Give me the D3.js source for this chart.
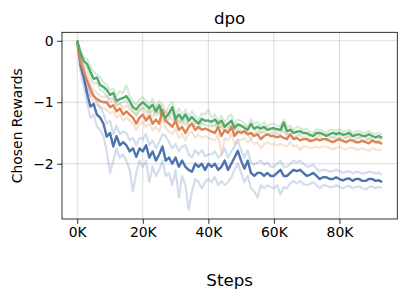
<!DOCTYPE html>
<html><head><meta charset="utf-8">
<script src="https://cdn.jsdelivr.net/npm/d3@7"></script>
<style>body{margin:0;background:#fff}svg{display:block}text{font-family:"DejaVu Sans",sans-serif;fill:#000}</style>
</head><body><svg id="c" width="408" height="300"></svg>
<script>
const xTicks = [0, 20000, 40000, 60000, 80000];
const xTickLabels = ["0K", "20K", "40K", "60K", "80K"];
const yTicks = [0, -1, -2];
const yTickLabels = ["0", "\u22121", "\u22122"];
const title = "dpo", xLabel = "Steps", yLabel = "Chosen Rewards";
const seriesNames = ["blue", "orange", "green"];
const colors = ["#4c72b0", "#dd8452", "#55a868"];

const greenMean = [0,-0.20,-0.33,-0.38,-0.50,-0.62,-0.60,-0.72,-0.75,-0.80,-0.88,-0.85,-0.98,-0.95,-0.93,-0.90,-0.98,-1.08,-1.12,-1.05,-1.00,-1.05,-1.10,-1.04,-1.15,-1.05,-1.20,-1.25,-1.18,-1.08,-1.28,-1.20,-1.28,-1.20,-1.30,-1.24,-1.30,-1.35,-1.27,-1.30,-1.30,-1.32,-1.28,-1.35,-1.30,-1.40,-1.35,-1.30,-1.42,-1.36,-1.38,-1.42,-1.45,-1.35,-1.43,-1.40,-1.43,-1.40,-1.45,-1.43,-1.42,-1.44,-1.45,-1.33,-1.47,-1.45,-1.50,-1.48,-1.47,-1.50,-1.50,-1.53,-1.55,-1.50,-1.50,-1.52,-1.55,-1.52,-1.50,-1.52,-1.50,-1.53,-1.52,-1.50,-1.55,-1.53,-1.52,-1.55,-1.55,-1.52,-1.55,-1.57,-1.55,-1.58];
const orangeMean = [0,-0.35,-0.50,-0.65,-0.78,-0.90,-0.95,-0.98,-1.00,-1.00,-1.08,-1.05,-1.15,-1.10,-1.20,-1.15,-1.20,-1.25,-1.35,-1.25,-1.20,-1.30,-1.22,-1.35,-1.28,-1.35,-1.12,-1.30,-1.35,-1.40,-1.30,-1.45,-1.40,-1.50,-1.40,-1.35,-1.45,-1.40,-1.45,-1.43,-1.45,-1.48,-1.50,-1.40,-1.55,-1.45,-1.50,-1.40,-1.55,-1.48,-1.50,-1.47,-1.52,-1.50,-1.55,-1.52,-1.60,-1.55,-1.52,-1.55,-1.55,-1.57,-1.55,-1.58,-1.60,-1.52,-1.60,-1.58,-1.62,-1.60,-1.60,-1.63,-1.62,-1.60,-1.62,-1.60,-1.60,-1.63,-1.65,-1.62,-1.60,-1.63,-1.65,-1.62,-1.62,-1.65,-1.65,-1.63,-1.65,-1.67,-1.62,-1.65,-1.65,-1.68];
const blueMean = [0,-0.40,-0.60,-0.85,-1.07,-1.03,-1.20,-1.25,-1.35,-1.56,-1.50,-1.72,-1.55,-1.70,-1.65,-1.70,-1.80,-1.75,-1.89,-1.75,-1.80,-1.70,-1.90,-1.80,-1.95,-1.85,-1.72,-1.95,-1.90,-2.00,-1.90,-2.05,-1.95,-2.05,-2.10,-2.13,-2.00,-2.05,-2.00,-2.10,-2.00,-2.05,-2.00,-2.10,-2.05,-1.95,-2.10,-2.00,-1.90,-1.79,-1.95,-2.08,-1.95,-2.15,-2.20,-2.15,-2.15,-2.20,-2.15,-2.20,-2.20,-2.15,-2.10,-2.20,-2.20,-2.15,-2.10,-2.12,-2.10,-2.15,-2.20,-2.18,-2.15,-2.20,-2.25,-2.22,-2.22,-2.25,-2.25,-2.22,-2.25,-2.27,-2.25,-2.24,-2.28,-2.25,-2.25,-2.28,-2.28,-2.25,-2.25,-2.28,-2.27,-2.30];

const greenRunA = [0,-0.15,-0.28,-0.30,-0.42,-0.50,-0.55,-0.60,-0.68,-0.72,-0.80,-0.78,-0.90,-0.82,-0.85,-0.72,-0.90,-0.98,-1.05,-0.95,-0.92,-0.98,-1.05,-0.95,-1.08,-0.98,-1.12,-1.18,-1.05,-1.00,-1.20,-1.10,-1.22,-1.12,-1.25,-1.15,-1.22,-1.28,-1.18,-1.20,-1.12,-1.25,-1.20,-1.30,-1.22,-1.32,-1.25,-1.20,-1.35,-1.28,-1.30,-1.35,-1.40,-1.28,-1.35,-1.32,-1.38,-1.32,-1.40,-1.35,-1.35,-1.38,-1.40,-1.28,-1.40,-1.38,-1.45,-1.40,-1.42,-1.45,-1.43,-1.48,-1.50,-1.44,-1.45,-1.47,-1.50,-1.45,-1.45,-1.47,-1.44,-1.48,-1.47,-1.45,-1.50,-1.48,-1.46,-1.50,-1.50,-1.47,-1.50,-1.52,-1.50,-1.53];
const greenRunB = [0,-0.25,-0.40,-0.45,-0.58,-0.70,-0.68,-0.80,-0.82,-0.90,-0.95,-0.92,-1.05,-1.02,-1.00,-0.98,-1.06,-1.15,-1.20,-1.12,-1.08,-1.12,-1.18,-1.12,-1.22,-1.12,-1.28,-1.32,-1.25,-1.15,-1.35,-1.28,-1.35,-1.28,-1.38,-1.32,-1.38,-1.42,-1.35,-1.38,-1.38,-1.40,-1.35,-1.42,-1.38,-1.48,-1.42,-1.38,-1.50,-1.44,-1.46,-1.50,-1.52,-1.60,-1.50,-1.48,-1.50,-1.48,-1.52,-1.50,-1.50,-1.52,-1.52,-1.40,-1.55,-1.52,-1.58,-1.55,-1.54,-1.57,-1.57,-1.60,-1.62,-1.57,-1.57,-1.59,-1.62,-1.58,-1.57,-1.59,-1.57,-1.60,-1.58,-1.57,-1.62,-1.60,-1.58,-1.62,-1.62,-1.59,-1.62,-1.64,-1.62,-1.65];
const orangeRunA = [0,-0.28,-0.42,-0.55,-0.70,-0.80,-0.85,-0.90,-0.92,-0.90,-1.00,-0.95,-1.05,-1.02,-1.10,-1.05,-1.12,-1.15,-1.22,-1.15,-1.10,-1.20,-1.12,-1.25,-1.10,-1.20,-1.02,-1.15,-1.22,-1.30,-1.20,-1.35,-1.28,-1.38,-1.30,-1.25,-1.35,-1.30,-1.35,-1.32,-1.28,-1.38,-1.40,-1.30,-1.42,-1.35,-1.40,-1.30,-1.45,-1.38,-1.40,-1.38,-1.42,-1.40,-1.45,-1.42,-1.50,-1.45,-1.42,-1.46,-1.45,-1.48,-1.46,-1.48,-1.52,-1.42,-1.50,-1.50,-1.52,-1.50,-1.52,-1.55,-1.53,-1.52,-1.54,-1.52,-1.52,-1.55,-1.57,-1.54,-1.52,-1.55,-1.57,-1.54,-1.55,-1.57,-1.57,-1.55,-1.57,-1.60,-1.55,-1.58,-1.58,-1.60];
const orangeRunB = [0,-0.42,-0.60,-0.75,-0.88,-1.00,-1.05,-1.08,-1.10,-1.12,-1.18,-1.15,-1.25,-1.20,-1.30,-1.25,-1.30,-1.35,-1.45,-1.35,-1.32,-1.40,-1.35,-1.45,-1.40,-1.48,-1.25,-1.42,-1.48,-1.52,-1.42,-1.58,-1.52,-1.62,-1.50,-1.48,-1.58,-1.52,-1.58,-1.55,-1.58,-1.60,-1.62,-1.52,-1.85,-1.58,-1.62,-1.52,-1.68,-1.60,-1.62,-1.58,-1.65,-1.62,-1.68,-1.65,-1.75,-1.68,-1.65,-1.68,-1.68,-1.70,-1.68,-1.70,-1.72,-1.65,-1.72,-1.70,-1.78,-1.72,-1.72,-1.75,-1.74,-1.72,-1.74,-1.72,-1.72,-1.75,-1.77,-1.74,-1.72,-1.75,-1.77,-1.74,-1.74,-1.77,-1.77,-1.75,-1.77,-1.79,-1.74,-1.77,-1.77,-1.78];
const blueRunA = [0,-0.50,-0.75,-1.00,-1.25,-1.20,-1.40,-1.45,-1.55,-1.80,-2.15,-1.95,-1.75,-1.90,-1.85,-1.95,-2.10,-2.45,-2.15,-1.95,-2.05,-1.95,-2.30,-2.05,-2.20,-2.10,-1.95,-2.20,-2.15,-2.35,-2.10,-2.55,-2.20,-2.35,-2.75,-2.45,-2.25,-2.30,-2.40,-2.30,-2.25,-2.30,-2.22,-2.35,-2.28,-2.35,-2.30,-2.22,-2.10,-2.00,-2.15,-2.30,-2.20,-2.40,-2.45,-2.55,-2.35,-2.40,-2.35,-2.38,-2.40,-2.35,-2.50,-2.38,-2.40,-2.32,-2.28,-2.32,-2.28,-2.33,-2.35,-2.33,-2.30,-2.35,-2.40,-2.35,-2.36,-2.38,-2.38,-2.35,-2.38,-2.40,-2.38,-2.36,-2.40,-2.38,-2.37,-2.40,-2.42,-2.38,-2.37,-2.40,-2.38,-2.40];
const blueRunB = [0,-0.30,-0.48,-0.70,-0.90,-0.88,-1.00,-1.08,-1.18,-1.35,-1.30,-1.52,-1.38,-1.52,-1.48,-1.50,-1.62,-1.58,-1.70,-1.58,-1.60,-1.52,-1.70,-1.62,-1.75,-1.65,-1.52,-1.55,-1.65,-1.75,-1.68,-1.80,-1.72,-1.70,-1.85,-1.90,-1.78,-1.85,-1.78,-1.88,-1.85,-1.85,-1.80,-1.90,-1.85,-1.75,-1.90,-1.80,-1.72,-1.62,-1.78,-1.90,-1.78,-1.98,-2.02,-1.98,-1.95,-2.02,-1.98,-2.05,-2.05,-2.00,-1.95,-2.05,-2.05,-2.00,-1.95,-1.98,-1.95,-2.00,-2.05,-2.04,-2.02,-2.08,-2.12,-2.10,-2.10,-2.13,-2.12,-2.10,-2.12,-2.15,-2.13,-2.12,-2.16,-2.13,-2.14,-2.16,-2.15,-2.13,-2.14,-2.16,-2.15,-2.18];

const stepSize = 1000;
const means = [blueMean, orangeMean, greenMean];
const runs = [[blueRunA, blueRunB], [orangeRunA, orangeRunB], [greenRunA, greenRunB]];

const svg = d3.select("#c");
const L = 62, R = 397.3, T = 32.3, B = 219;
const x = d3.scaleLinear().domain([-4650, 97650]).range([L, R]);
const y = d3.scaleLinear().domain([-2.9, 0.138]).range([B, T]);

const g = svg.append("g");
g.selectAll(".gx").data(xTicks).join("line")
  .attr("x1", d => x(d)).attr("x2", d => x(d)).attr("y1", T).attr("y2", B)
  .attr("stroke", "#b0b0b0").attr("stroke-opacity", 0.5).attr("stroke-width", 0.9);
g.selectAll(".gy").data(yTicks).join("line")
  .attr("x1", L).attr("x2", R).attr("y1", d => y(d)).attr("y2", d => y(d))
  .attr("stroke", "#b0b0b0").attr("stroke-opacity", 0.5).attr("stroke-width", 0.9);

const line = d3.line().x((d, i) => x(i * stepSize)).y(d => y(d));
svg.append("clipPath").attr("id", "cp").append("rect")
  .attr("x", L).attr("y", T).attr("width", R - L).attr("height", B - T);
const plot = svg.append("g").attr("clip-path", "url(#cp)");
runs.forEach((rs, k) => rs.forEach(r => {
  plot.append("path").datum(r).attr("d", line).attr("fill", "none")
    .attr("stroke", colors[k]).attr("stroke-opacity", 0.24).attr("stroke-width", 2.2)
    .attr("stroke-linejoin", "round");
}));
means.forEach((m, k) => {
  plot.append("path").datum(m).attr("d", line).attr("fill", "none")
    .attr("stroke", colors[k]).attr("stroke-width", 2.4).attr("stroke-linejoin", "round");
});

svg.append("rect").attr("x", L).attr("y", T).attr("width", R - L).attr("height", B - T)
  .attr("fill", "none").attr("stroke", "#000").attr("stroke-width", 0.8);

const xAxis = d3.axisBottom(x).tickValues(xTicks).tickFormat((d, i) => xTickLabels[i])
  .tickSize(4.9).tickPadding(3.5);
const ya = d3.axisLeft(y).tickValues(yTicks).tickFormat((d, i) => yTickLabels[i])
  .tickSize(4.9).tickPadding(3.5);
const gx = svg.append("g").attr("transform", `translate(0,${B})`).call(xAxis);
const gy = svg.append("g").attr("transform", `translate(${L},0)`).call(ya);
[gx, gy].forEach(a => {
  a.select(".domain").remove();
  a.selectAll("line").attr("stroke", "#000").attr("stroke-width", 0.8);
  a.selectAll("text").attr("font-family", "DejaVu Sans").attr("font-size", 13.9).attr("fill", "#000");
});

svg.append("text").attr("x", (L + R) / 2).attr("y", 24).attr("text-anchor", "middle")
  .attr("font-size", 16.7).text(title);
svg.append("text").attr("x", (L + R) / 2).attr("y", 286).attr("text-anchor", "middle")
  .attr("font-size", 16.7).text(xLabel);
svg.append("text").attr("transform", `translate(21.5,${(T + B) / 2}) rotate(-90)`)
  .attr("text-anchor", "middle").attr("font-size", 13.9).text(yLabel);
</script></body></html>
